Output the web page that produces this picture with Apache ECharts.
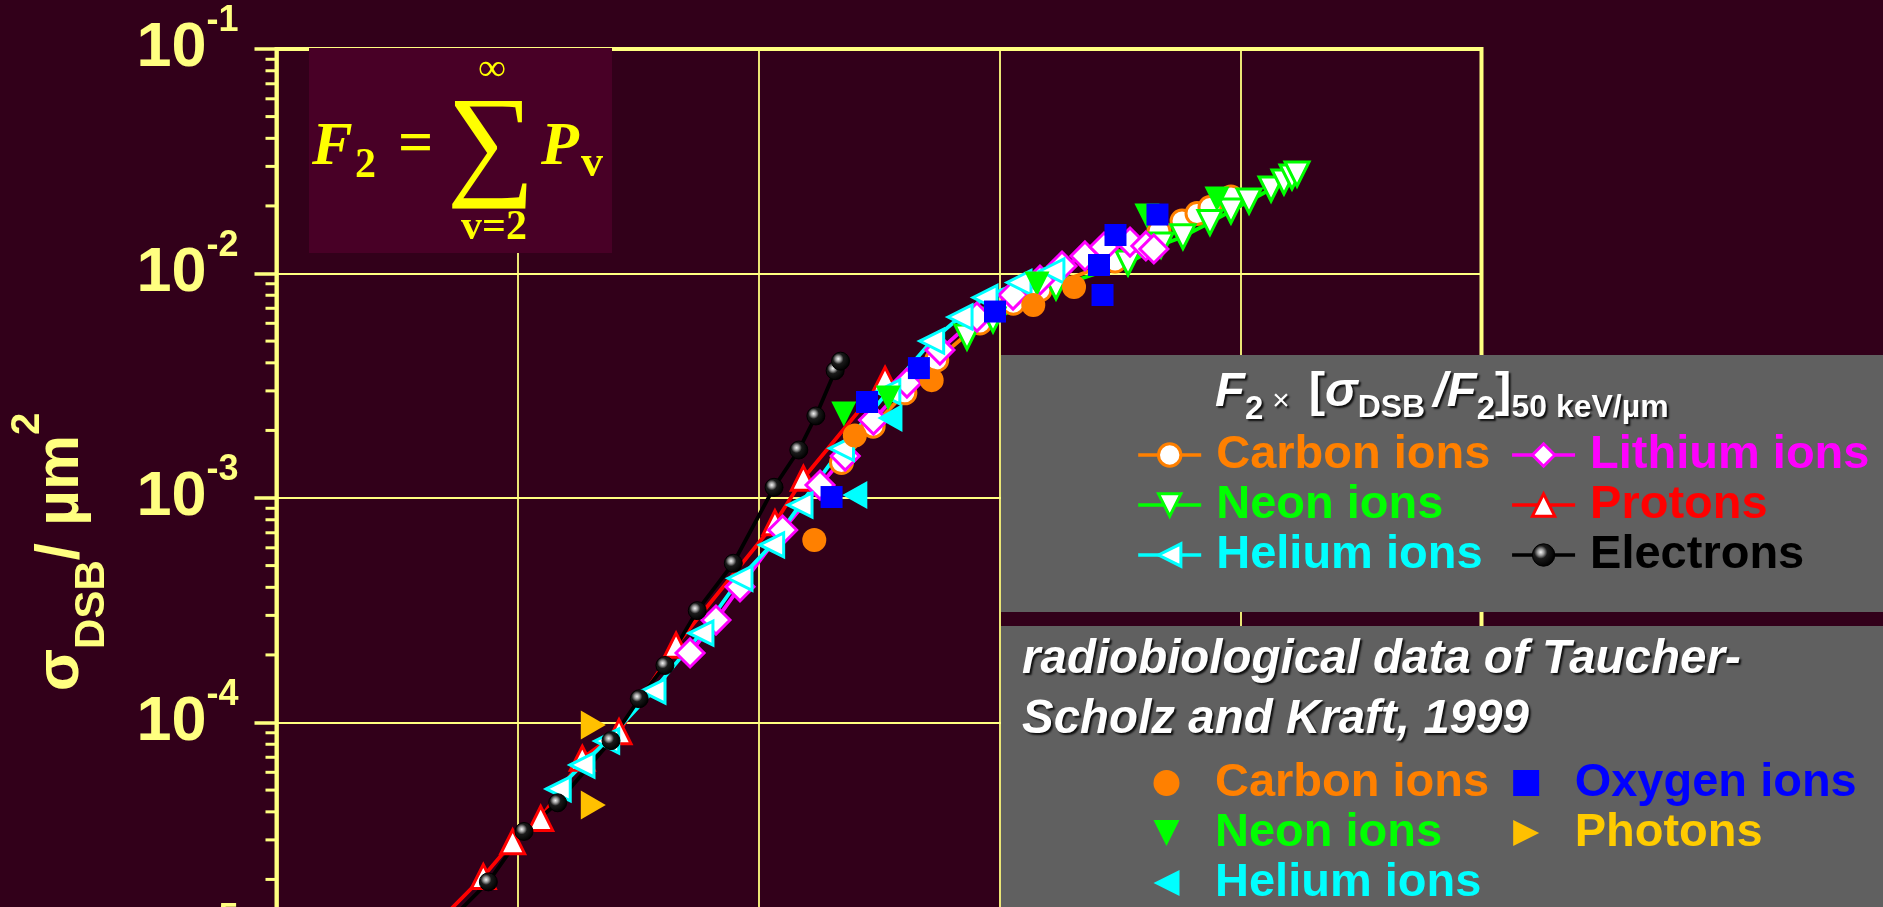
<!DOCTYPE html>
<html>
<head>
<meta charset="utf-8">
<script src="https://cdn.jsdelivr.net/npm/echarts@6/dist/echarts.min.js"></script>
<style>
html,body{margin:0;padding:0;width:1883px;height:907px;overflow:hidden;background:#32001a;}
#wrap{width:1883px;height:907px;overflow:hidden;position:relative;}
#chart{width:1883px;height:1300px;position:absolute;left:0;top:0;}
</style>
</head>
<body>
<div id="wrap"><div id="chart"></div></div>
<script>
// ---------- axis ranges / ticks ----------
const xRange = [0.1, 10000];          // LET, keV/µm (log)
const yRange = [1e-6, 0.1];           // sigma_DSB, µm^2 (log)
const yMinorTicks = [
  2e-6,3e-6,4e-6,5e-6,6e-6,7e-6,8e-6,9e-6,
  2e-5,3e-5,4e-5,5e-5,6e-5,7e-5,8e-5,9e-5,
  2e-4,3e-4,4e-4,5e-4,6e-4,7e-4,8e-4,9e-4,
  2e-3,3e-3,4e-3,5e-3,6e-3,7e-3,8e-3,9e-3,
  2e-2,3e-2,4e-2,5e-2,6e-2,7e-2,8e-2,9e-2
];

// ---------- model curves: F2 x [sigma_DSB/F2]_50keV/µm ----------
const protons = [[0.468,1.29e-5],[0.721,2.06e-5],[0.955,2.94e-5],[1.248,3.74e-5],[1.857,6.93e-5],[2.638,9.10e-5],[4.55,2.21e-4],[11.7,7.76e-4],[15.35,1.224e-3],[33.5,3.38e-3]];
const carbonModel = [[22.1,1.439e-3],[29.9,2.09e-3],[40.5,2.94e-3],[54.9,4.12e-3],[83.0,6.02e-3],[114.1,7.37e-3],[147.2,8.44e-3],[301.6,1.137e-2],[459,1.546e-2],[572,1.713e-2],[660,1.850e-2],[747,1.968e-2],[913,2.19e-2]];
const neonModel = [[73.3,5.21e-3],[94.0,6.21e-3],[171.6,8.71e-3],[341.5,1.114e-2],[468,1.339e-2],[577,1.459e-2],[747,1.688e-2],[913,1.899e-2],[1085,2.103e-2],[1339,2.378e-2],[1515,2.556e-2],[1636,2.69e-2],[1716,2.774e-2]];
const lithiumModel = [[5.20,2.04e-4],[6.66,2.86e-4],[8.38,4.02e-4],[12.6,7.20e-4],[18.0,1.142e-3],[22.9,1.538e-3],[30.0,2.225e-3],[41.3,3.25e-3],[56.6,4.56e-3],[80.6,6.40e-3],[113.8,8.02e-3],[147.2,9.35e-3],[181.7,1.080e-2],[226.3,1.197e-2],[271.5,1.312e-2],[348,1.381e-2],[405,1.326e-2],[437,1.286e-2]];
const heliumModel = [[1.476,5.06e-5],[1.852,6.47e-5],[2.345,8.27e-5],[3.65,1.38e-4],[5.77,2.50e-4],[8.38,4.39e-4],[11.34,6.18e-4],[14.87,9.31e-4],[22.1,1.665e-3],[34.4,2.97e-3],[52.3,5.00e-3],[68.6,6.40e-3],[87.1,7.82e-3],[120.5,9.12e-3],[165,1.026e-2]];
const electrons = [[0.500,1.25e-5],[0.757,1.95e-5],[1.064,3.27e-5],[1.468,4.39e-5],[2.443,8.30e-5],[3.20,1.276e-4],[4.09,1.795e-4],[5.57,3.15e-4],[7.86,5.12e-4],[11.6,1.116e-3],[14.7,1.636e-3],[17.3,2.32e-3],[20.8,3.69e-3],[21.9,4.07e-3]];

// ---------- radiobiological data (Taucher-Scholz and Kraft, 1999) ----------
const carbonData = [[17.04,6.50e-4],[25.1,1.90e-3],[52.3,3.35e-3],[138.1,7.24e-3],[203.8,8.71e-3]];
const neonData = [[22.6,2.366e-3],[34.5,2.79e-3],[143.1,8.98e-3],[409,1.803e-2],[799,2.147e-2]];
const heliumData = [[25.1,1.031e-3],[35.1,2.27e-3]];
const oxygenData = [[20.1,1.010e-3],[28.2,2.677e-3],[46.3,3.79e-3],[95.8,6.77e-3],[258.8,1.091e-2],[267.6,8.02e-3],[302.9,1.484e-2],[452.4,1.831e-2]];
const photonData = [[2.063,9.75e-5],[2.063,4.29e-5]];

// ---------- styling ----------
const FONT = '"Liberation Sans", Arial, sans-serif';
const SERIF = '"Liberation Serif", "Times New Roman", serif';
const AXIS_YELLOW = '#ffff80';
const FORMULA_YELLOW = '#ffff00';
const C = {carbon:'#ff8000', neon:'#00ff00', helium:'#00ffff', lithium:'#ff00ff', protons:'#ff0000', electrons:'#000000', oxygen:'#0000ff', photons:'#ffc000'};
const TRI_DOWN = 'path://M0,0L10,0L5,10Z';
const TRI_LEFT = 'path://M0,5L10,0L10,10Z';
const TRI_RIGHT = 'path://M0,0L10,5L0,10Z';
const LINE_W = 3.8;

function modelSeries(name, data, color, symbol, size, rotate) {
  return {
    name, type: 'line', data, symbol, symbolSize: size, symbolRotate: rotate || 0,
    lineStyle: {color, width: LINE_W},
    itemStyle: {color: '#ffffff', borderColor: color, borderWidth: 3},
    emphasis: {disabled: true}, z: 2
  };
}
function dataSeries(name, data, color, symbol, size, rotate) {
  return {
    name, type: 'scatter', data, symbol, symbolSize: size, symbolRotate: rotate || 0,
    itemStyle: {color, opacity: 1},
    emphasis: {disabled: true}, z: 2
  };
}
const ball = {type:'radial', x:0.38, y:0.38, r:0.62, colorStops:[
  {offset:0, color:'#f4f4f4'}, {offset:0.22, color:'#9a9a9a'}, {offset:0.45, color:'#1a1a1a'}, {offset:1, color:'#000000'}]};

const shadow = {textShadowColor:'rgba(0,0,0,0.85)', textShadowBlur:2, textShadowOffsetX:2, textShadowOffsetY:2};
const legendText = {fontSize: 47, fontWeight: 'bold', fontFamily: FONT, lineHeight: 50};

const chart = echarts.init(document.getElementById('chart'), null, {renderer: 'canvas'});
const option = {
  backgroundColor: '#32001a',
  animation: false,
  textStyle: {fontFamily: FONT},
  grid: {left: 276.5, top: 49, width: 1205, height: 1122.5, show: true, borderColor: AXIS_YELLOW, borderWidth: 4, backgroundColor: 'transparent'},
  xAxis: {
    type: 'log', logBase: 10, min: xRange[0], max: xRange[1],
    axisLine: {onZero: false, lineStyle: {color: AXIS_YELLOW, width: 4}},
    axisTick: {show: false}, axisLabel: {show: false},
    splitLine: {show: true, lineStyle: {color: AXIS_YELLOW, width: 1.8}}
  },
  yAxis: {
    type: 'log', logBase: 10, min: yRange[0], max: yRange[1],
    axisLine: {onZero: false, lineStyle: {color: AXIS_YELLOW, width: 3.5}},
    axisTick: {show: true, inside: false, length: 22, lineStyle: {color: AXIS_YELLOW, width: 3.5}},
    splitLine: {show: true, lineStyle: {color: AXIS_YELLOW, width: 1.8}},
    axisLabel: {
      margin: 38, showMinLabel: true, showMaxLabel: true,
      formatter: function (v) { return '{b|10}{s|' + Math.round(Math.log10(v)) + '}'; },
      rich: {
        b: {fontSize: 63, fontWeight: 'bold', fontFamily: FONT, color: AXIS_YELLOW, padding: [14, 0, 14, 0]},
        s: {fontSize: 36, fontWeight: 'bold', fontFamily: FONT, color: AXIS_YELLOW, verticalAlign: 'top'}
      }
    }
  },
  legend: [
    {
      left: 1136.5, top: 430, orient: 'vertical', height: 160, padding: 0, itemGap: 0,
      itemWidth: 63, itemHeight: 28, selectedMode: false, z: 6,
      lineStyle: {width: 3.4},
      itemStyle: {borderWidth: 3},
      textStyle: Object.assign({padding: [0, 20, 0, 10]}, legendText),
      data: [
        {name: 'Carbon ions', textStyle: {color: C.carbon}},
        {name: 'Neon ions', textStyle: {color: C.neon}},
        {name: 'Helium ions', textStyle: {color: C.helium}},
        {name: 'Lithium ions', textStyle: {color: C.lithium}},
        {name: 'Protons', textStyle: {color: C.protons}},
        {name: 'Electrons', textStyle: {color: C.electrons}, itemStyle: {borderWidth: 1}}
      ]
    },
    {
      left: 1153.5, top: 758, orient: 'vertical', height: 160, padding: 0, itemGap: 0,
      itemWidth: 26, itemHeight: 26, selectedMode: false, z: 6,
      itemStyle: {borderWidth: 0},
      formatter: function (n) { return n.replace(' (data)', ''); },
      textStyle: Object.assign({padding: [0, 24, 0, 30.5]}, legendText),
      data: [
        {name: 'Carbon ions (data)', icon: 'circle', textStyle: {color: C.carbon}},
        {name: 'Neon ions (data)', icon: TRI_DOWN, textStyle: {color: C.neon}},
        {name: 'Helium ions (data)', icon: TRI_LEFT, textStyle: {color: C.helium}},
        {name: 'Oxygen ions', icon: 'rect', textStyle: {color: C.oxygen}},
        {name: 'Photons', icon: TRI_RIGHT, textStyle: {color: '#ffcc00'}}
      ]
    }
  ],
  graphic: [
    // formula box
    {type: 'rect', z: 3, shape: {x: 309, y: 48, width: 303, height: 205}, style: {fill: '#480026'}},
    // legend boxes
    {type: 'rect', z: 3, shape: {x: 1001, y: 355, width: 900, height: 257}, style: {fill: '#606060'}},
    {type: 'rect', z: 3, shape: {x: 1001, y: 626, width: 900, height: 400}, style: {fill: '#606060'}},
    // formula text
    {type: 'text', z: 5, x: 312, y: 148, style: {text: 'F', fill: FORMULA_YELLOW, fontSize: 61, fontStyle: 'italic', fontWeight: 'bold', fontFamily: SERIF, align: 'left', verticalAlign: 'middle'}},
    {type: 'text', z: 5, x: 355, y: 166, style: {text: '2', fill: FORMULA_YELLOW, fontSize: 42, fontWeight: 'bold', fontFamily: SERIF, align: 'left', verticalAlign: 'middle'}},
    {type: 'text', z: 5, x: 398, y: 146, style: {text: '=', fill: FORMULA_YELLOW, fontSize: 62, fontWeight: 'bold', fontFamily: SERIF, align: 'left', verticalAlign: 'middle'}},
    {type: 'text', z: 5, x: 491, y: 149, style: {text: '\u2211', fill: FORMULA_YELLOW, fontSize: 124, fontFamily: SERIF, align: 'center', verticalAlign: 'middle'}},
    {type: 'text', z: 5, x: 492, y: 70, style: {text: '\u221e', fill: FORMULA_YELLOW, fontSize: 38, fontWeight: 'bold', fontFamily: SERIF, align: 'center', verticalAlign: 'middle'}},
    {type: 'text', z: 5, x: 494, y: 228, style: {text: 'v=2', fill: FORMULA_YELLOW, fontSize: 42, fontWeight: 'bold', fontFamily: SERIF, align: 'center', verticalAlign: 'middle'}},
    {type: 'text', z: 5, x: 541, y: 148, style: {text: 'P', fill: FORMULA_YELLOW, fontSize: 62, fontStyle: 'italic', fontWeight: 'bold', fontFamily: SERIF, align: 'left', verticalAlign: 'middle'}},
    {type: 'text', z: 5, x: 581, y: 165, style: {text: 'v', fill: FORMULA_YELLOW, fontSize: 44, fontWeight: 'bold', fontFamily: SERIF, align: 'left', verticalAlign: 'middle'}},
    // y axis title
    {type: 'text', z: 5, x: 60.5, y: 552, rotation: Math.PI / 2, style: {
      text: '{m|\u03c3}{sub|DSB}{m|/ \u00b5m}{sup|2}', align: 'center', verticalAlign: 'middle',
      rich: {
        m: {fontSize: 62, fontWeight: 'bold', fontFamily: FONT, fill: AXIS_YELLOW},
        sub: {fontSize: 42, fontWeight: 'bold', fontFamily: FONT, fill: AXIS_YELLOW, padding: [64, 0, 0, 0]},
        sup: {fontSize: 40, fontWeight: 'bold', fontFamily: FONT, fill: AXIS_YELLOW, padding: [0, 0, 65, 0]}
      }}},
    // legend 1 title
    {type: 'text', z: 5, x: 1215, y: 392, style: {
      text: '{i|F}{s|2}{x|\u00d7}{b|[}{i|\u03c3}{d|DSB}{j|/F}{s|2}{b|]}{d|50 keV/\u00b5m}', align: 'left', verticalAlign: 'middle',
      rich: {
        i: Object.assign({fontSize: 49, fontStyle: 'italic', fontWeight: 'bold', fontFamily: FONT, fill: '#ffffff'}, shadow),
        j: Object.assign({fontSize: 49, fontStyle: 'italic', fontWeight: 'bold', fontFamily: FONT, fill: '#ffffff', padding: [0, 0, 0, 8]}, shadow),
        s: Object.assign({fontSize: 33, fontWeight: 'bold', fontFamily: FONT, fill: '#ffffff', padding: [35, 0, 0, 0]}, shadow),
        x: Object.assign({fontSize: 30, fontFamily: FONT, fill: '#ffffff', padding: [20, 19, 0, 9]}, shadow),
        b: Object.assign({fontSize: 49, fontWeight: 'bold', fontFamily: FONT, fill: '#ffffff'}, shadow),
        d: Object.assign({fontSize: 32, fontWeight: 'bold', fontFamily: FONT, fill: '#ffffff', padding: [33, 0, 0, 0]}, shadow)
      }}},
    // legend 2 title
    {type: 'text', z: 5, x: 1022, y: 630, style: Object.assign({
      text: 'radiobiological data of Taucher-\nScholz and Kraft, 1999', fill: '#ffffff',
      fontSize: 47.5, fontStyle: 'italic', fontWeight: 'bold', fontFamily: FONT, lineHeight: 60,
      align: 'left', verticalAlign: 'top'}, shadow)}
  ],
  series: [
    modelSeries('Protons', protons, C.protons, 'triangle', 24, 0),
    modelSeries('Carbon ions', carbonModel, C.carbon, 'circle', 22, 0),
    modelSeries('Neon ions', neonModel, C.neon, 'triangle', 24, 180),
    modelSeries('Lithium ions', lithiumModel, C.lithium, 'diamond', 28, 0),
    modelSeries('Helium ions', heliumModel, C.helium, 'triangle', 24, 90),
    {
      name: 'Electrons', type: 'line', data: electrons, symbol: 'circle', symbolSize: 18,
      lineStyle: {color: '#000000', width: LINE_W},
      itemStyle: {color: ball, borderColor: '#000000', borderWidth: 1},
      emphasis: {disabled: true}, z: 2
    },
    dataSeries('Neon ions (data)', neonData, C.neon, 'triangle', 25, 180),
    dataSeries('Carbon ions (data)', carbonData, C.carbon, 'circle', 24, 0),
    dataSeries('Helium ions (data)', heliumData, C.helium, 'triangle', [28, 25], 90),
    dataSeries('Oxygen ions', oxygenData, C.oxygen, 'rect', 22, 0),
    dataSeries('Photons', photonData, C.photons, 'triangle', [29, 25], -90),
    {
      name: 'yMinorTicks', type: 'custom', silent: true, clip: false, z: 3,
      data: yMinorTicks.map(function (v) { return [xRange[0], v]; }),
      renderItem: function (params, api) {
        const p = api.coord([api.value(0), api.value(1)]);
        return {type: 'line', shape: {x1: p[0] - 11, y1: p[1], x2: p[0], y2: p[1]}, style: {stroke: AXIS_YELLOW, lineWidth: 3}};
      }
    }
  ]
};
chart.setOption(option);
</script>
</body>
</html>
